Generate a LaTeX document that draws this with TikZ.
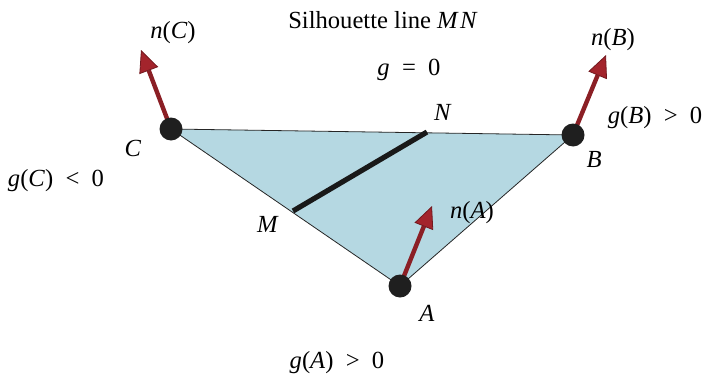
\documentclass[tikz,border=0pt]{standalone}
\usepackage{fontspec}
\setmainfont{Liberation Serif}
\usetikzlibrary{arrows.meta}
\definecolor{trifill}{HTML}{B5D8E2}
\definecolor{nred}{HTML}{A3242C}
\newcommand{\gi}[1]{\textit{#1}}
\newcommand{\rel}[1]{\hspace{0.5em}#1\hspace{0.5em}}
\begin{document}
\begin{tikzpicture}[x=0.5pt,y=-0.5pt,
  vdot/.style={circle,fill=black!88,minimum size=11.5pt,inner sep=0pt},
  normalarrow/.style={draw=nred!85!black,line width=2.2pt,
    -{Triangle[length=11pt,width=10pt,fill=nred,color=nred!70!black,line width=0.4pt]}},
  lbl/.style={inner sep=0pt,font=\fontsize{12.3pt}{14pt}\selectfont},
  silh/.style={line width=2.6pt,draw=black!90}]
\useasboundingbox (0,0) rectangle (704,385);
\coordinate (A) at (400,286);
\coordinate (B) at (573,135);
\coordinate (C) at (171,129);
\coordinate (M) at (293,211);
\coordinate (N) at (427,132);
\coordinate (nAtip) at (432,206);
\coordinate (nBtip) at (606,55);
\coordinate (nCtip) at (141,50);
\fill[trifill] (A) -- (B) -- (C) -- cycle;
\draw[line width=0.4pt,black!85] (A) -- (B) -- (C) -- cycle;
\draw[silh] (M) -- (N);
\draw[normalarrow] (A) -- (nAtip);
\draw[normalarrow] (B) -- (nBtip);
\draw[normalarrow] (C) -- (nCtip);
\node[vdot] (dA) at (A) {};
\node[vdot] (dB) at (B) {};
\node[vdot] (dC) at (C) {};
\node[lbl] (title) at (383,20) {Silhouette line \gi{M\kern0.1em N}};
\node[lbl] (g0) at (409,70) {\gi{g}\rel{=}0};
\node[lbl] (lN) at (443,112) {\gi{N}};
\node[lbl] (lM) at (268,224) {\gi{M}};
\node[lbl] (lA) at (427,313) {\gi{A}};
\node[lbl] (lB) at (594,159) {\gi{B}};
\node[lbl] (lC) at (133,148) {\gi{C}};
\node[lbl] (lnA) at (472,213) {\gi{n}(\gi{A})};
\node[lbl] (lnB) at (613,40) {\gi{n}(\gi{B})};
\node[lbl] (lnC) at (173,33) {\gi{n}(\gi{C})};
\node[lbl] (gA) at (337,363) {\gi{g}(\gi{A})\rel{>}0};
\node[lbl] (gB) at (655,118) {\gi{g}(\gi{B})\rel{>}0};
\node[lbl] (gC) at (56,181) {\gi{g}(\gi{C})\rel{<}0};
\end{tikzpicture}
\end{document}
